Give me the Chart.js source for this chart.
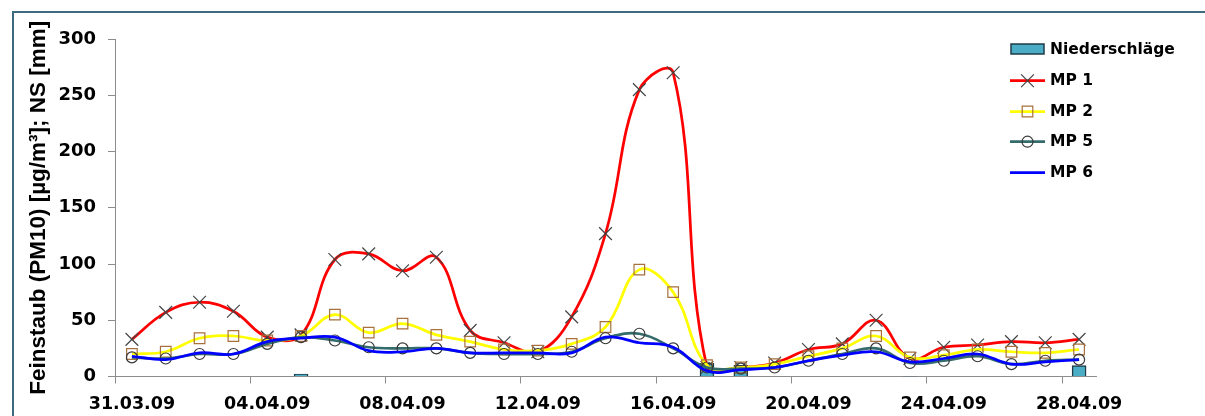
<!DOCTYPE html>
<html>
<head>
<meta charset="utf-8">
<title>Feinstaub PM10 und Niederschläge</title>
<script src="https://cdn.jsdelivr.net/npm/chart.js@4.4.1/dist/chart.umd.min.js"></script>
<style>
  html, body { margin: 0; padding: 0; background: #ffffff; overflow: hidden; }
  #wrap { width: 1205px; height: 416px; position: relative; overflow: hidden; }
  canvas { display: block; }
</style>
</head>
<body>
<div id="wrap"><canvas id="chart" width="1205" height="416"></canvas></div>
<script>
// Messtage 31.03.09 bis 28.04.09
const dates = [
  '31.03.09', '01.04.09', '02.04.09', '03.04.09', '04.04.09', '05.04.09', '06.04.09',
  '07.04.09', '08.04.09', '09.04.09', '10.04.09', '11.04.09', '12.04.09', '13.04.09',
  '14.04.09', '15.04.09', '16.04.09', '17.04.09', '18.04.09', '19.04.09', '20.04.09',
  '21.04.09', '22.04.09', '23.04.09', '24.04.09', '25.04.09', '26.04.09', '27.04.09',
  '28.04.09'
];

// Niederschläge [mm]
const niederschlag = [null, null, null, null, null, 2.2, null, null, null, null, null, null, null, null,
  null, null, null, 12, 10, null, null, null, null, 0.4, null, null, null, null, 9.6];

// Feinstaub PM10 [µg/m³] je Messpunkt
const mp1 = [33, 57, 66, 58, 35, 37, 104, 109, 94, 106, 41, 30, 22, 53,
  127, 255, 270, 8, 8, 12, 24, 29, 50, 16, 26, 28, 31, 30, 33];
const mp2 = [20, 22, 34, 36, 32, 36, 55, 39, 47, 37, 31, 24, 23, 29,
  44, 95, 75, 10, 8, 11, 18, 25, 36, 17, 19, 24, 22, 21, 24];
const mp5 = [17, 16, 20, 20, 29, 35, 32, 26, 25, 25, 21, 20, 20, 22,
  34, 38, 25, 8, 7, 8, 14, 20, 25, 12, 14, 18, 11, 14, 15];
const mp6 = [18, 15, 21, 20, 31, 34, 35, 23, 22, 25, 21, 21, 21, 21,
  35, 30, 26, 5, 6, 8, 14, 19, 22, 13, 16, 20, 11, 13, 15];

const yTicks = [0, 50, 100, 150, 200, 250, 300];

const FONT = 'DejaVu Sans';
const AXIS_GRAY = '#8c8c8c';

// Frame (top and left edge) around the diagram and white background
const framePlugin = {
  id: 'frame',
  beforeDraw(chart) {
    const ctx = chart.ctx;
    ctx.save();
    ctx.fillStyle = '#ffffff';
    ctx.fillRect(0, 0, chart.width, chart.height);
    ctx.fillStyle = '#3f6b82';
    ctx.fillRect(12, 11, chart.width - 12, 2);
    ctx.fillRect(12, 11, 2, chart.height - 11);
    ctx.restore();
  }
};

// Legend drawn inside the upper right corner of the plot
const legendPlugin = {
  id: 'innerLegend',
  afterDraw(chart) {
    const ctx = chart.ctx;
    const x0 = 1010, x1 = 1045, tx = 1050;
    const rows = [49, 80.7, 111.5, 141.7, 172.5];
    ctx.save();
    ctx.font = 'bold 15.5px "' + FONT + '"';
    ctx.textBaseline = 'middle';
    ctx.textAlign = 'left';
    chart.data.datasets.forEach((ds, r) => {
      const y = rows[r];
      if (ds.type === 'bar') {
        ctx.fillStyle = ds.backgroundColor;
        ctx.fillRect(x0 + 1, y - 5, x1 - x0 - 2, 10);
        ctx.strokeStyle = ds.borderColor;
        ctx.lineWidth = 1.5;
        ctx.strokeRect(x0 + 1, y - 5, x1 - x0 - 2, 10);
      } else {
        ctx.strokeStyle = ds.borderColor;
        ctx.lineWidth = ds.borderWidth;
        ctx.beginPath();
        ctx.moveTo(x0, y);
        ctx.lineTo(x1, y);
        ctx.stroke();
        const cx = (x0 + x1) / 2;
        ctx.strokeStyle = ds.pointBorderColor;
        ctx.lineWidth = ds.pointBorderWidth;
        ctx.beginPath();
        if (ds.pointStyle === 'crossRot') {
          const d = ds.pointRadius * Math.SQRT1_2;
          ctx.moveTo(cx - d, y - d); ctx.lineTo(cx + d, y + d);
          ctx.moveTo(cx + d, y - d); ctx.lineTo(cx - d, y + d);
          ctx.stroke();
        } else if (ds.pointStyle === 'rect') {
          const d = ds.pointRadius * Math.SQRT1_2;
          ctx.rect(cx - d, y - d, 2 * d, 2 * d);
          ctx.stroke();
        } else if (ds.pointStyle === 'circle' && ds.pointRadius > 0) {
          ctx.arc(cx, y, ds.pointRadius, 0, Math.PI * 2);
          ctx.stroke();
        }
      }
      ctx.fillStyle = '#000000';
      ctx.fillText(ds.label, tx, y + 0.5);
    });
    ctx.restore();
  }
};

const lineBase = {
  type: 'line',
  tension: 0.4,
  borderWidth: 2.75,
  fill: false,
  pointBackgroundColor: 'rgba(0,0,0,0)',
  pointBorderWidth: 1.2,
  pointHoverRadius: 0,
  spanGaps: true
};

const data = {
  labels: dates,
  datasets: [
    {
      type: 'bar',
      label: 'Niederschläge',
      data: niederschlag,
      backgroundColor: '#4bacc6',
      borderColor: '#1f3b47',
      borderWidth: 1.5,
      barThickness: 14,
      order: 5
    },
    Object.assign({}, lineBase, {
      label: 'MP 1',
      data: mp1,
      borderColor: '#ff0000',
      pointStyle: 'crossRot',
      pointRadius: 9,
      pointBorderColor: '#444444',
      order: 4
    }),
    Object.assign({}, lineBase, {
      label: 'MP 2',
      data: mp2,
      borderColor: '#ffff00',
      pointStyle: 'rect',
      pointRadius: 7.5,
      pointBorderColor: '#a8703c',
      order: 3
    }),
    Object.assign({}, lineBase, {
      label: 'MP 5',
      data: mp5,
      borderColor: '#346b6b',
      pointStyle: 'circle',
      pointRadius: 5.5,
      pointBorderColor: '#383838',
      order: 2
    }),
    Object.assign({}, lineBase, {
      label: 'MP 6',
      data: mp6,
      borderColor: '#0000ff',
      pointStyle: 'circle',
      pointRadius: 0,
      pointBorderColor: '#0000ff',
      order: 1
    })
  ]
};

new Chart(document.getElementById('chart'), {
  data: data,
  options: {
    responsive: false,
    animation: false,
    devicePixelRatio: 1,
    layout: { padding: { left: 0, top: 39, right: 109, bottom: 0 } },
    plugins: {
      legend: { display: false },
      tooltip: { enabled: false }
    },
    scales: {
      x: {
        type: 'category',
        offset: true,
        grid: {
          offset: true,
          drawOnChartArea: false,
          drawTicks: true,
          tickLength: 7,
          lineWidth: 1,
          color: (c) => (c.index !== undefined && c.index % 4 === 0) ? AXIS_GRAY : 'rgba(0,0,0,0)'
        },
        border: { display: true, color: AXIS_GRAY, width: 1 },
        ticks: {
          autoSkip: false,
          maxRotation: 0,
          minRotation: 0,
          padding: 10,
          color: '#000000',
          font: { family: FONT, size: 17.5, weight: 'bold' },
          callback: (value, index) => index % 4 === 0 ? dates[index] : ''
        },
        afterFit: (scale) => { scale.height = 39.5; }
      },
      y: {
        min: yTicks[0],
        max: yTicks[yTicks.length - 1],
        afterBuildTicks: (scale) => { scale.ticks = yTicks.map(v => ({ value: v })); },
        grid: {
          drawOnChartArea: false,
          drawTicks: true,
          tickLength: 7,
          color: AXIS_GRAY
        },
        border: { display: true, color: AXIS_GRAY, width: 1 },
        ticks: {
          padding: 12,
          color: '#000000',
          font: { family: FONT, size: 18, weight: 'bold' }
        },
        title: {
          display: true,
          text: 'Feinstaub (PM10) [µg/m³]; NS [mm]',
          color: '#000000',
          font: { family: 'Liberation Sans', size: 22.5, weight: 'bold' },
          padding: { top: 25.5, bottom: 0 }
        },
        afterFit: (scale) => { scale.width = 115; }
      }
    }
  },
  plugins: [framePlugin, legendPlugin]
});
</script>
</body>
</html>
